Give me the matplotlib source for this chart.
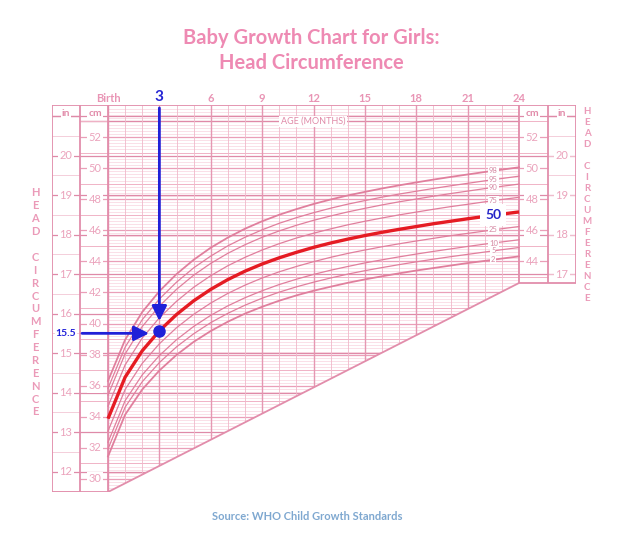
import numpy as np
import matplotlib
matplotlib.use('Agg')
import matplotlib.pyplot as plt
from matplotlib.patches import Polygon

# ---------------- data (WHO girls head circumference, cm) ----------------
months = list(range(25))
p2 = [31.45, 34.14, 35.76, 36.98, 37.98, 38.82, 39.52, 40.12, 40.64, 41.08, 41.47, 41.81, 42.11,
      42.37, 42.62, 42.84, 43.04, 43.23, 43.41, 43.57, 43.73, 43.89, 44.03, 44.18, 44.32]
p5 = [31.93, 34.62, 36.26, 37.49, 38.50, 39.34, 40.06, 40.66, 41.18, 41.63, 42.02, 42.36, 42.66,
      42.93, 43.18, 43.40, 43.60, 43.79, 43.97, 44.14, 44.30, 44.45, 44.60, 44.75, 44.89]
p10 = [32.36, 35.04, 36.70, 37.94, 38.96, 39.81, 40.53, 41.14, 41.66, 42.11, 42.51, 42.85, 43.16,
       43.43, 43.67, 43.90, 44.10, 44.29, 44.47, 44.64, 44.80, 44.96, 45.11, 45.25, 45.39]
p25 = [33.08, 35.76, 37.44, 38.70, 39.73, 40.59, 41.32, 41.94, 42.47, 42.93, 43.33, 43.67, 43.98,
       44.26, 44.51, 44.73, 44.94, 45.13, 45.31, 45.48, 45.65, 45.80, 45.95, 46.10, 46.24]
p50 = [33.88, 36.55, 38.25, 39.53, 40.58, 41.46, 42.20, 42.83, 43.37, 43.83, 44.23, 44.58, 44.90,
       45.18, 45.43, 45.66, 45.87, 46.06, 46.24, 46.42, 46.58, 46.74, 46.89, 47.04, 47.18]
p75 = [34.68, 37.34, 39.07, 40.37, 41.43, 42.33, 43.08, 43.72, 44.26, 44.73, 45.14, 45.50, 45.81,
       46.09, 46.35, 46.58, 46.79, 46.99, 47.17, 47.35, 47.52, 47.67, 47.83, 47.98, 48.12]
p90 = [35.40, 38.05, 39.81, 41.12, 42.20, 43.11, 43.87, 44.52, 45.07, 45.55, 45.96, 46.32, 46.64,
       46.92, 47.18, 47.41, 47.63, 47.83, 48.01, 48.19, 48.36, 48.52, 48.68, 48.83, 48.97]
p95 = [35.83, 38.48, 40.25, 41.58, 42.66, 43.58, 44.34, 45.00, 45.55, 46.03, 46.45, 46.81, 47.13,
       47.42, 47.68, 47.91, 48.13, 48.33, 48.51, 48.69, 48.86, 49.02, 49.18, 49.33, 49.48]
p98 = [36.31, 38.96, 40.74, 42.08, 43.18, 44.10, 44.88, 45.53, 46.10, 46.58, 47.00, 47.36, 47.69,
       47.98, 48.24, 48.47, 48.69, 48.89, 49.08, 49.26, 49.43, 49.59, 49.75, 49.90, 50.05]
thin_curves = [("2", p2), ("5", p5), ("10", p10), ("25", p25), ("75", p75),
               ("90", p90), ("95", p95), ("98", p98)]
month_ticks = [0, 6, 9, 12, 15, 18, 21, 24]
month_tick_labels = ["Birth", "6", "9", "12", "15", "18", "21", "24"]
cm_left = [30, 32, 34, 36, 38, 40, 42, 44, 46, 48, 50, 52]
cm_right = [44, 46, 48, 50, 52]
in_left = [12, 13, 14, 15, 16, 17, 18, 19, 20]
in_right = [17, 18, 19, 20]
mark_month = 3
mark_inch = 15.5
mark_cm = 39.53

# ---------------- geometry ----------------
W, H = 621, 537
fig = plt.figure(figsize=(W / 100, H / 100), dpi=100)
AX_L, AX_R, AX_T, AX_B = 52, 576, 105, 492
ax = fig.add_axes([AX_L / W, 1 - AX_B / H, (AX_R - AX_L) / W, (AX_B - AX_T) / H])
MPX = 24 / 411
CPX = 22 / 342
def mx(px): return (px - 108) * MPX
def cy(py): return 52 - (py - 137) * CPX
ax.set_xlim(mx(AX_L), mx(AX_R))
ax.set_ylim(cy(AX_B), cy(AX_T))
ax.axis('off')

FONT = ['Lato', 'DejaVu Sans']
Y_BOT = cy(492)
Y_RB = cy(283)
Y_TOP = cy(105)
XL_IN, XL_CM = mx(52), mx(80)
XR_CM, XR_IN = mx(548), mx(576)

clip = Polygon([(0, Y_BOT), (24, Y_RB), (24, Y_TOP), (0, Y_TOP)], closed=True,
               transform=ax.transData, facecolor='none', edgecolor='none')
ax.add_patch(clip)

C_FINE = '#f8d3df'
C_CM = '#f0b3c6'
C_CM2 = '#ea9fb8'
C_IN = '#df8aa8'
C_FRAME = '#e28dab'
C_TXT = '#eba3bc'

# fine horizontal lines
fine = np.arange(29.2, 54.0, 0.2)
lc = ax.hlines(fine, 0, 24, colors=C_FINE, lw=0.5, zorder=1)
lc.set_clip_path(clip)
odd_cm = np.arange(29, 54, 1)
lc = ax.hlines(odd_cm, 0, 24, colors=C_CM, lw=0.7, zorder=1.2)
lc.set_clip_path(clip)
even_cm = np.arange(30, 54, 2)
lc = ax.hlines(even_cm, 0, 24, colors=C_CM2, lw=0.9, zorder=1.3)
lc.set_clip_path(clip)
inch_lines = np.arange(12, 22) * 2.54
lc = ax.hlines(inch_lines, 0, 24, colors=C_IN, lw=0.9, zorder=1.4)
lc.set_clip_path(clip)
# age line
ax.hlines([53], mx(80), 24, colors=C_IN, lw=1.0, zorder=1.5)

# vertical lines
lc = ax.vlines(np.arange(0, 25, 1), Y_BOT, Y_TOP, colors='#f0b8ca', lw=0.6, zorder=1.5)
lc.set_clip_path(clip)
lc = ax.vlines(np.arange(0, 25, 3), Y_BOT, Y_TOP, colors='#e597b2', lw=1.0, zorder=1.6)
lc.set_clip_path(clip)

# left columns
ax.hlines(np.arange(30, 54, 1), XL_CM, 0, colors=C_CM, lw=0.7, zorder=1.5)
ax.hlines(np.arange(30, 54, 2), XL_CM, 0, colors=C_CM2, lw=0.9, zorder=1.5)
ax.hlines(np.arange(12, 22) * 2.54, XL_CM, 0, colors=C_IN, lw=0.9, zorder=1.5)
ax.hlines(np.arange(11.5, 21.5, 0.5) * 2.54, XL_IN, XL_CM, colors='#f3c6d4', lw=0.6, zorder=1.5)
ax.hlines(np.arange(12, 22) * 2.54, XL_IN, XL_CM, colors=C_IN, lw=0.9, zorder=1.6)
# right columns
rc = [c for c in range(43, 54)]
ax.hlines(rc, 24, XR_CM, colors=C_CM, lw=0.7, zorder=1.5)
ax.hlines([c for c in rc if c % 2 == 0], 24, XR_CM, colors=C_CM2, lw=0.9, zorder=1.5)
ax.hlines(np.arange(17, 22) * 2.54, 24, XR_IN, colors=C_IN, lw=0.9, zorder=1.5)
ax.hlines(np.arange(17, 21.5, 0.5) * 2.54, XR_CM, XR_IN, colors='#f3c6d4', lw=0.6, zorder=1.5)

# frames
fr = dict(color=C_FRAME, lw=1.3, zorder=3, solid_capstyle='butt')
ax.plot([XL_IN, XR_IN], [Y_TOP, Y_TOP], **fr)
ax.plot([XL_IN, XL_IN], [Y_TOP, Y_BOT], **fr)
ax.plot([XL_CM, XL_CM], [Y_TOP, Y_BOT], **fr)
ax.plot([0, 0], [Y_TOP, Y_BOT], **fr)
ax.plot([XL_IN, 0], [Y_BOT, Y_BOT], **fr)
ax.plot([0, 24], [Y_BOT, Y_RB], **fr)
ax.plot([24, 24], [Y_TOP, Y_RB], **fr)
ax.plot([XR_CM, XR_CM], [Y_TOP, Y_RB], **fr)
ax.plot([XR_IN, XR_IN], [Y_TOP, Y_RB], **fr)
ax.plot([24, XR_IN], [Y_RB, Y_RB], **fr)

# tick labels
lab = dict(fontsize=8, color=C_TXT, ha='center', va='center', family=FONT, zorder=4,
           bbox=dict(boxstyle='square,pad=0.12', fc='white', ec='none'))
for c in cm_left:
    ax.text(mx(95), c, str(c), **lab)
for c in cm_right:
    ax.text(mx(532), c, str(c), **lab)
for i in in_left:
    ax.text(mx(66), i * 2.54, str(i), **lab)
for i in in_right:
    ax.text(mx(562), i * 2.54, str(i), **lab)
hdr = dict(fontsize=7.5, color=C_FRAME, ha='center', va='center', family=FONT,
           fontweight='bold', zorder=4,
           bbox=dict(boxstyle='square,pad=0.1', fc='white', ec='none'))
ax.hlines([21 * 2.54], XL_IN, XL_CM, colors=C_IN, lw=0.9, zorder=3.5)
ax.hlines([21 * 2.54], XR_CM, XR_IN, colors=C_IN, lw=0.9, zorder=3.5)
ax.text(mx(66), cy(113), "in", **hdr)
ax.text(mx(95), cy(113), "cm", **hdr)
ax.text(mx(532), cy(113), "cm", **hdr)
ax.text(mx(562), cy(113), "in", **hdr)
ax.text(mx(313), 53, "AGE (MONTHS)", fontsize=6.5, color='#e08aa8', ha='center', va='center',
        family=FONT, zorder=4, bbox=dict(boxstyle='square,pad=0.15', fc='white', ec='none'))

for m, t in zip(month_ticks, month_tick_labels):
    ax.text(m, cy(98), t, fontsize=8, color='#e995b5', ha='center', va='center',
            family=FONT, fontweight='bold', clip_on=False)
ax.text(mark_month, cy(97), str(mark_month), fontsize=11, color='#2424d4', ha='center',
        va='center', family=FONT, fontweight='bold', clip_on=False)

# curves
for name, vals in thin_curves:
    lw = 1.3 if name in ("2", "98") else 0.9
    ax.plot(months, vals, color='#e07f9d', lw=lw, zorder=5)
ax.plot(months, p50, color='#e51b23', lw=2.4, zorder=6, solid_capstyle='butt')

LM = 22.5
for name, vals in thin_curves:
    yv = np.interp(LM, months, vals)
    ax.text(LM, yv, name, fontsize=5.5, color='#d68aa4', ha='center', va='center',
            family=FONT, zorder=7, bbox=dict(boxstyle='square,pad=0.12', fc='white', ec='none'))
ax.text(LM, np.interp(LM, months, p50), "50", fontsize=10, color='#2424c8', ha='center',
        va='center', family=FONT, fontweight='bold', zorder=7,
        bbox=dict(boxstyle='square,pad=0.35', fc='white', ec='none'))

# marker and arrows
BLUE = '#2020d8'
ax.plot([mark_month], [mark_cm], 'o', color=BLUE, ms=8, zorder=9)
ax.annotate("", xy=(mark_month, cy(321)), xytext=(mark_month, cy(108)),
            arrowprops=dict(arrowstyle='-|>,head_length=0.9,head_width=0.45', color=BLUE,
                            lw=2.0, shrinkA=0, shrinkB=0), zorder=9)
ax.annotate("", xy=(mx(149), mark_inch * 2.54), xytext=(mx(82), mark_inch * 2.54),
            arrowprops=dict(arrowstyle='-|>,head_length=0.9,head_width=0.45', color=BLUE,
                            lw=2.0, shrinkA=0, shrinkB=0), zorder=9)
ax.text(mx(66), mark_inch * 2.54, str(mark_inch), fontsize=7.5, color=BLUE, ha='center',
        va='center', family=FONT, fontweight='bold', zorder=10,
        bbox=dict(boxstyle='square,pad=0.1', fc='white', ec='none'))

# vertical letters
word = "HEAD CIRCUMFERENCE"
for i, ch in enumerate(word):
    if ch != ' ':
        fig.text(35 / W, 1 - (193 + i * 12.88) / H, ch, fontsize=8, color='#eb9ab8',
                 ha='center', va='center', family=FONT, fontweight='bold')
        fig.text(587 / W, 1 - (111.7 + i * 11.0) / H, ch, fontsize=7, color='#eb9ab8',
                 ha='center', va='center', family=FONT, fontweight='bold')

# titles
fig.text(311 / W, 1 - 38 / H, "Baby Growth Chart for Girls:", fontsize=14.5, color='#ee8ab3',
         ha='center', va='center', family=FONT, fontweight='bold')
fig.text(311 / W, 1 - 63 / H, "Head Circumference", fontsize=14.5, color='#ee8ab3',
         ha='center', va='center', family=FONT, fontweight='bold')
fig.text(307 / W, 1 - 517 / H, "Source: WHO Child Growth Standards", fontsize=8,
         color='#7fa8d0', ha='center', va='center', family=FONT, fontweight='bold')

fig.savefig("out.png", dpi=100)
